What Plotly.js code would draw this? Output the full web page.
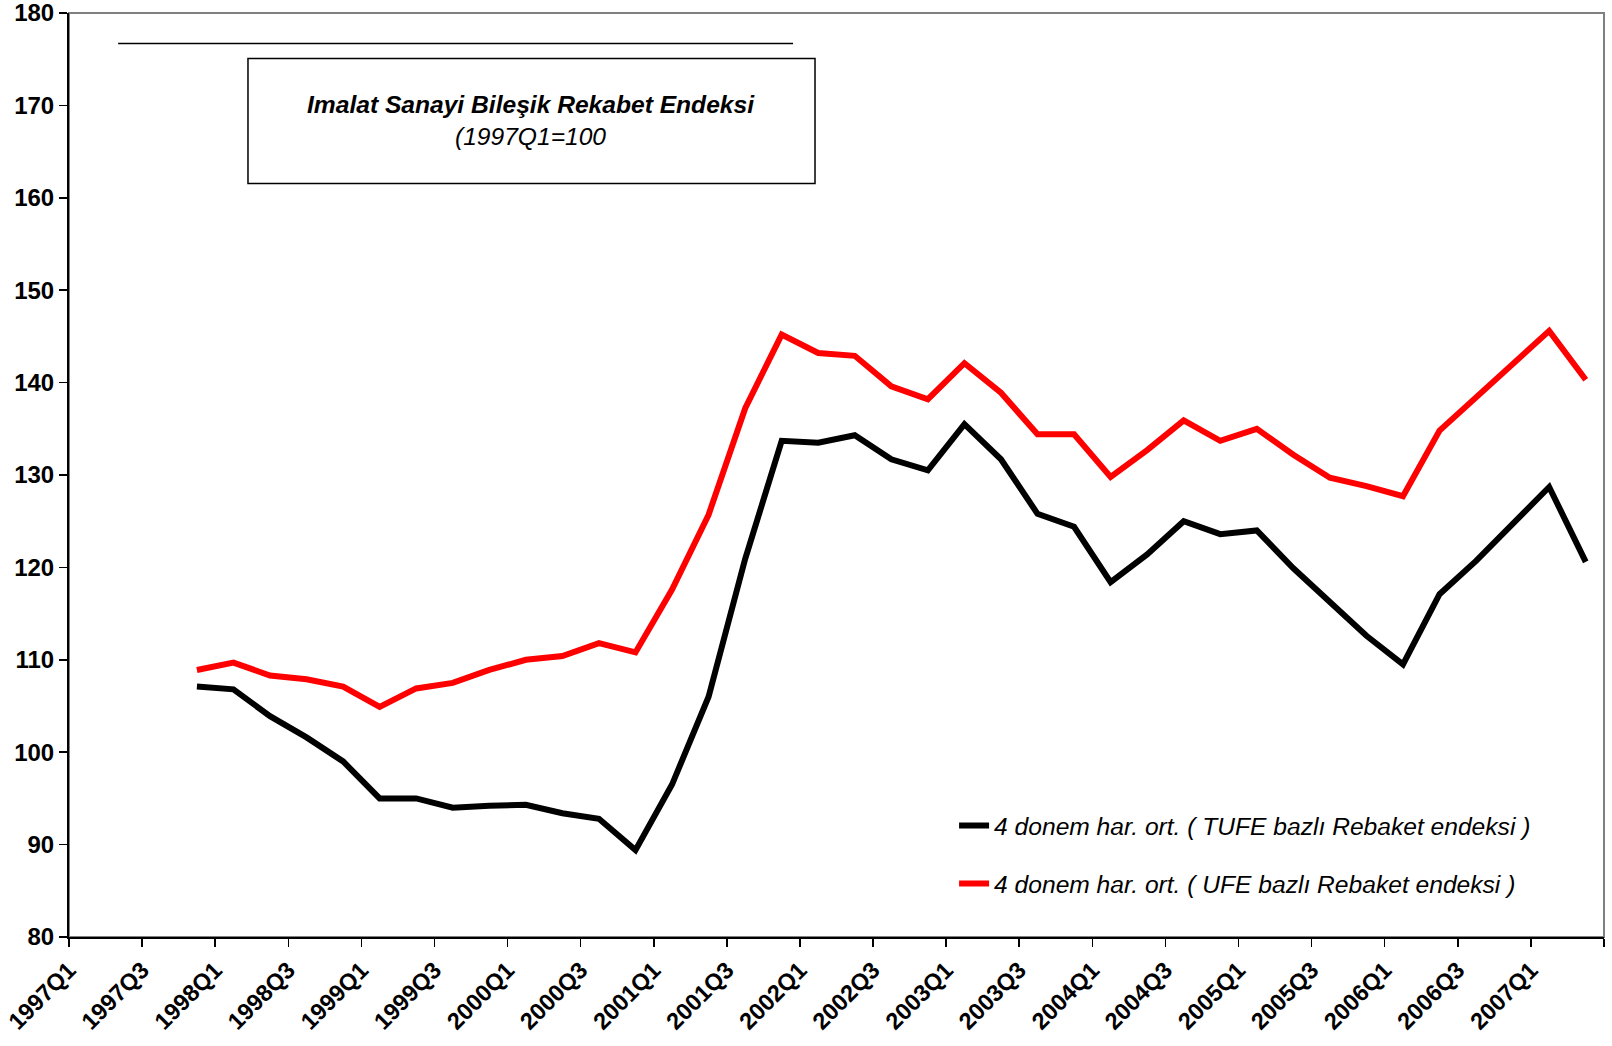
<!DOCTYPE html>
<html>
<head>
<meta charset="utf-8">
<script src="https://cdn.plot.ly/plotly-3.0.1.min.js"></script>
<style>html,body{margin:0;padding:0;background:#fff;}#chart{width:1612px;height:1046px;}</style>
</head>
<body>
<div id="chart"></div>
<script>
// Quarterly categories 1997Q1 .. 2007Q2
const quarters = [
  "1997Q1","1997Q2","1997Q3","1997Q4",
  "1998Q1","1998Q2","1998Q3","1998Q4",
  "1999Q1","1999Q2","1999Q3","1999Q4",
  "2000Q1","2000Q2","2000Q3","2000Q4",
  "2001Q1","2001Q2","2001Q3","2001Q4",
  "2002Q1","2002Q2","2002Q3","2002Q4",
  "2003Q1","2003Q2","2003Q3","2003Q4",
  "2004Q1","2004Q2","2004Q3","2004Q4",
  "2005Q1","2005Q2","2005Q3","2005Q4",
  "2006Q1","2006Q2","2006Q3","2006Q4",
  "2007Q1","2007Q2"
];

// 4 donem har. ort. (TUFE bazli)
const tufe = [
  null, null, null, 107.1,
  106.8, 103.9, 101.6, 99.0,
  95.0, 95.0, 94.0, 94.2,
  94.3, 93.4, 92.8, 89.4,
  96.5, 106.0, 120.9, 133.7,
  133.5, 134.3, 131.7, 130.5,
  135.5, 131.7, 125.8, 124.4,
  118.4, 121.4, 125.0, 123.6,
  124.0, 119.9, 116.2, 112.6,
  109.5, 117.1, 120.7, 124.7,
  128.7, 120.6
];

// 4 donem har. ort. (UFE bazli)
const ufe = [
  null, null, null, 108.9,
  109.7, 108.3, 107.9, 107.1,
  104.9, 106.9, 107.5, 108.9,
  110.0, 110.4, 111.8, 110.8,
  117.6, 125.7, 137.2, 145.2,
  143.2, 142.9, 139.6, 138.2,
  142.1, 138.9, 134.4, 134.4,
  129.8, 132.7, 135.9, 133.7,
  135.0, 132.2, 129.7, 128.8,
  127.7, 134.8, 138.4, 141.8,
  145.6, 140.3
];

const yTicks = [80, 90, 100, 110, 120, 130, 140, 150, 160, 170, 180];

const seriesNames = [
  "4 donem har. ort. ( TUFE bazlı Rebaket endeksi )",
  "4 donem har. ort. ( UFE bazlı Rebaket endeksi )"
];
const titleLine1 = "Imalat Sanayi Bileşik Rekabet Endeksi";
const titleLine2 = "(1997Q1=100";

// category centres on a numeric axis; ticks/labels on category boundaries every 2 quarters
const xs = quarters.map((q, i) => i + 0.5);
const tickVals = [];
const tickText = [];
for (let i = 0; i <= quarters.length; i += 2) {
  tickVals.push(i);
  tickText.push(i < quarters.length ? quarters[i] : "");
}

const FONT = "Arial, 'Liberation Sans', sans-serif";

const traces = [
  {x: xs, y: tufe, type: "scatter", mode: "lines", name: seriesNames[0],
   line: {color: "#000000", width: 6}, legendgroup: "a", connectgaps: false},
  {x: xs, y: ufe, type: "scatter", mode: "lines", name: seriesNames[1],
   line: {color: "#FF0000", width: 6}, legendgroup: "b", connectgaps: false}
];

const layout = {
  width: 1612, height: 1046,
  margin: {l: 69, r: 8, t: 13, b: 109, pad: 0},
  paper_bgcolor: "#ffffff", plot_bgcolor: "#ffffff",
  font: {family: FONT, color: "#000"},
  showlegend: true,
  legend: {
    x: 0.5766, y: 0.145, xanchor: "left", yanchor: "top",
    bgcolor: "rgba(0,0,0,0)", borderwidth: 0,
    font: {family: FONT, size: 24.6, style: "italic", color: "#000"},
    traceorder: "grouped", tracegroupgap: 23
  },
  xaxis: {
    range: [0, quarters.length], tickmode: "array", tickvals: tickVals, ticktext: tickText,
    tickangle: -45, ticks: "outside", ticklen: 8, tickwidth: 1.5, tickcolor: "#000",
    showline: true, linecolor: "#000", linewidth: 2,
    showgrid: false, zeroline: false,
    tickfont: {family: FONT, size: 23.5, weight: "bold", color: "#000"}
  },
  yaxis: {
    range: [80, 180], tickmode: "array", tickvals: yTicks, ticklabeloverflow: "allow",
    ticks: "outside", ticklen: 8, tickwidth: 1.5, tickcolor: "#000",
    showline: true, linecolor: "#000", linewidth: 2,
    showgrid: false, zeroline: false,
    tickfont: {family: FONT, size: 24, weight: "bold", color: "#000"}
  },
  shapes: [
    {type: "rect", xref: "paper", yref: "paper", x0: 0, x1: 1, y0: 0, y1: 1,
     line: {color: "#808080", width: 2}, layer: "below"},
    {type: "line", xref: "paper", yref: "paper", x0: 0.032, x1: 0.4717, y0: 0.967, y1: 0.967,
     line: {color: "#000", width: 1.5}},
    {type: "rect", xref: "paper", yref: "paper", x0: 0.1166, x1: 0.486, y0: 0.8154, y1: 0.9507,
     line: {color: "#000", width: 1.5}, fillcolor: "#fff"}
  ],
  annotations: [
    {xref: "paper", yref: "paper", x: 0.301, y: 0.8836, xanchor: "center", yanchor: "middle",
     showarrow: false, align: "center",
     text: "<b><i>" + titleLine1 + "</i></b><br><i>" + titleLine2 + "</i>",
     font: {family: FONT, size: 24.6, color: "#000"}}
  ]
};

Plotly.newPlot("chart", traces, layout, {displayModeBar: false, staticPlot: true});
</script>
</body>
</html>
